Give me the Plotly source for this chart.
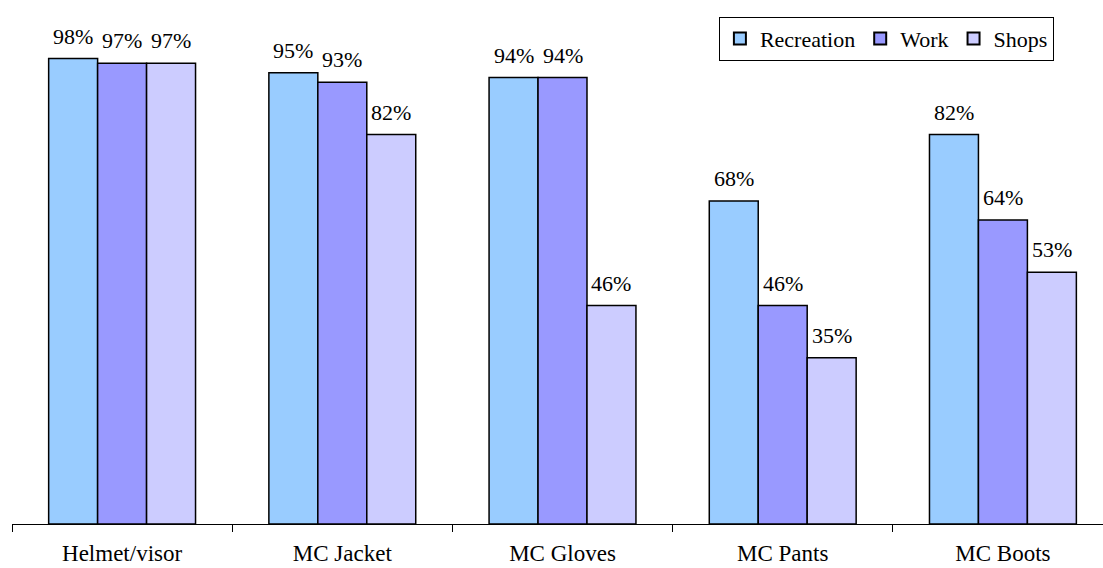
import plotly.graph_objects as go

categories = ["Helmet/visor", "MC Jacket", "MC Gloves", "MC Pants", "MC Boots"]
series_names = ["Recreation", "Work", "Shops"]
recreation = [98, 95, 94, 68, 82]
work = [97, 93, 94, 46, 64]
shops = [97, 82, 46, 35, 53]
series_values = [recreation, work, shops]
series_colors = ["#99CCFF", "#9999FF", "#CCCCFF"]

FONT = "Times New Roman, Liberation Serif, serif"
BARGAP = 0.333

fig = go.Figure()
for name, vals, col in zip(series_names, series_values, series_colors):
    fig.add_trace(go.Bar(
        name=name, x=categories, y=vals,
        marker=dict(color=col, line=dict(color="#000000", width=1.5)),
    ))

# value labels above each bar (offset within its group)
bar_w = (1 - BARGAP) / len(series_values)
for j, vals in enumerate(series_values):
    off = (j - (len(series_values) - 1) / 2) * bar_w
    for i, v in enumerate(vals):
        fig.add_annotation(
            x=i + off, y=v, xref="x", yref="y",
            text=f"{v}%", showarrow=False, yanchor="bottom", yshift=8,
            font=dict(family=FONT, size=22, color="#000000"),
        )

fig.update_layout(
    width=1103, height=568,
    margin=dict(l=12, r=0, t=49, b=44),
    paper_bgcolor="white", plot_bgcolor="white",
    barmode="group", bargap=BARGAP, bargroupgap=0,
    font=dict(family=FONT, size=23, color="#000000"),
    showlegend=True,
    legend=dict(
        orientation="h", x=0.955, xanchor="right", y=1.068, yanchor="top",
        bordercolor="#000000", borderwidth=1, bgcolor="white",
        font=dict(family=FONT, size=22, color="#000000"),
        itemsizing="constant", tracegroupgap=0, itemwidth=30,
    ),
    xaxis=dict(
        type="category", range=[-0.5, 4.4545], automargin=False,
        showline=True, linecolor="#000000", linewidth=1,
        ticks="outside", ticklen=7, tickcolor="#000000", tickson="boundaries",
        ticklabelstandoff=8,
        showgrid=False, tickfont=dict(family=FONT, size=23, color="#000000"),
    ),
    yaxis=dict(
        range=[0, 100], visible=False, showgrid=False, zeroline=False,
        automargin=False,
    ),
)

fig.write_html("out.html")
